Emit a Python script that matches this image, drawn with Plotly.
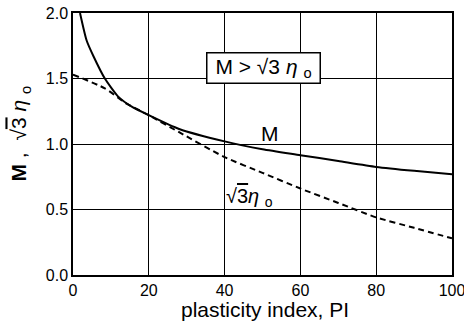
import plotly.graph_objects as go

# Data
pi_M = [1.85, 3.6, 5.4, 8.4, 12, 15.5, 20, 28, 40, 50, 60, 70, 80, 90, 100]
M_vals = [2.0, 1.79, 1.67, 1.50, 1.36, 1.285, 1.22, 1.115, 1.02, 0.96, 0.915, 0.87, 0.825, 0.795, 0.77]

pi_eta = [0, 8.4, 14, 20, 28, 40, 50, 60, 70, 80, 90, 100]
eta_vals = [1.53, 1.425, 1.31, 1.22, 1.09, 0.90, 0.78, 0.66, 0.55, 0.44, 0.36, 0.28]

x_ticks = [0, 20, 40, 60, 80, 100]
y_ticks = [0.0, 0.5, 1.0, 1.5, 2.0]
y_ticklabels = ["0.0", "0.5", "1.0", "1.5", "2.0"]

FONT = "Liberation Sans, Arial, sans-serif"
SQ3 = "√<span style='text-decoration:overline'>3</span>"

fig = go.Figure()
fig.add_trace(go.Scatter(x=pi_eta, y=eta_vals, mode="lines",
                         line=dict(color="black", width=2, dash="6px,4px", shape="spline", smoothing=0.6),
                         showlegend=False))
fig.add_trace(go.Scatter(x=pi_M, y=M_vals, mode="lines",
                         line=dict(color="black", width=2, shape="spline", smoothing=0.6),
                         showlegend=False))

fig.update_layout(
    width=464, height=324,
    margin=dict(l=73, r=12, t=13, b=49),
    paper_bgcolor="white", plot_bgcolor="white",
    font=dict(family=FONT, color="black", size=15),
    xaxis=dict(range=[0, 100], tickvals=x_ticks, showgrid=True, gridcolor="black", gridwidth=1,
               showline=True, linecolor="black", linewidth=1.5, mirror=True, zeroline=False,
               ticks="", tickfont=dict(size=16), automargin=False, ticklabeloverflow="allow"),
    yaxis=dict(range=[0, 2], tickvals=y_ticks, ticktext=y_ticklabels, showgrid=True,
               gridcolor="black", gridwidth=1, showline=True, linecolor="black", linewidth=1.5,
               mirror=True, zeroline=False, ticks="", tickfont=dict(size=16), automargin=False,
               ticklabeloverflow="allow"),
    annotations=[
        dict(xref="paper", yref="paper", x=0.507, y=-0.08, yanchor="top", xanchor="center",
             text="plasticity index, PI", showarrow=False, font=dict(size=21)),
        dict(xref="paper", yref="paper", x=-0.14, y=0.54, textangle=-90, xanchor="center",
             yanchor="middle", showarrow=False, font=dict(size=21),
             text="<b>M</b> ,  " + SQ3 + " <i>η</i> <sub>o</sub>"),
        dict(x=50.3, y=1.584, xref="x", yref="y", showarrow=False, bgcolor="white",
             bordercolor="black", borderwidth=1.5, borderpad=4, width=104, height=21,
             font=dict(size=21),
             text="M > " + SQ3 + " <i>η</i> <sub>o</sub>"),
        dict(x=52, y=1.084, xref="x", yref="y", showarrow=False, font=dict(size=21),
             text="M"),
        dict(x=46.7, y=0.595, xref="x", yref="y", showarrow=False, font=dict(size=20),
             text=SQ3 + "<i>η</i> <sub>o</sub>"),
    ],
)

fig.write_html("out.html", config={"displayModeBar": False},
               post_script="document.body.style.margin='0';document.body.style.padding='0';")
